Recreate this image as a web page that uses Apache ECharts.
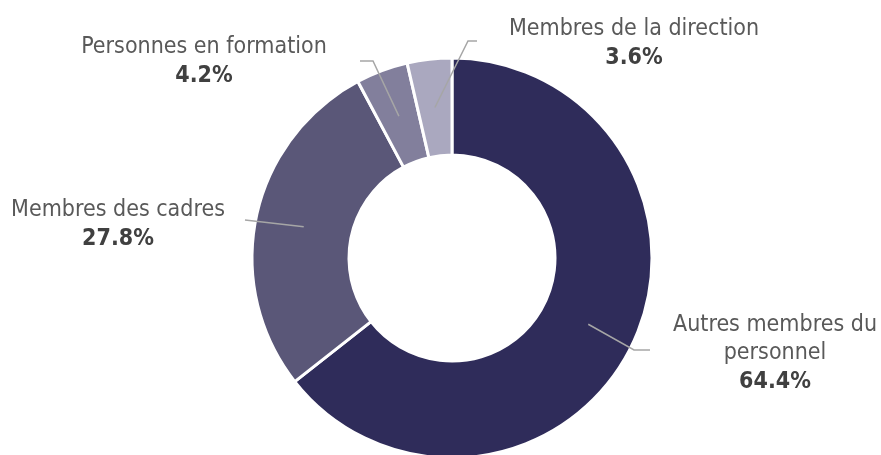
<!DOCTYPE html>
<html>
<head>
<meta charset="utf-8">
<script src="https://cdn.jsdelivr.net/npm/echarts@6/dist/echarts.min.js"></script>
<style>
  html, body { margin: 0; padding: 0; background: #fff; }
  #container { width: 881px; height: 455px; }
</style>
</head>
<body>
<div id="container"></div>
<script>
var categories = ['Autres membres du\npersonnel', 'Membres des cadres', 'Personnes en formation', 'Membres de la direction'];
var values = [64.4, 27.8, 4.2, 3.6];
var colors = ['#2f2c5a', '#5a5778', '#827f9c', '#aaa8bf'];

// label layout (text centre, line elbow, line end)
var labelPos = [[775, 354], [118, 225], [204, 62], [634, 44]];
var lineElbow = [[634, 350], [245, 220], [373, 61], [468, 41]];
var lineEnd = [[650, 350], [245, 220], [360, 61], [477, 41]];

var cx = 452, cy = 258, rIn = 103, rOut = 200;

var total = values.reduce(function (a, b) { return a + b; }, 0);
function midPoint(i) {
  var before = 0;
  for (var k = 0; k < i; k++) before += values[k];
  var a = (before + values[i] / 2) / total * Math.PI * 2;
  var r = (rIn + rOut) / 2;
  return [cx + r * Math.sin(a), cy - r * Math.cos(a)];
}

var dom = document.getElementById('container');
var myChart = echarts.init(dom);
var option = {
  animation: false,
  series: [{
    // the ring
    type: 'pie',
    center: [cx, cy],
    radius: [rIn, rOut],
    startAngle: 90,
    clockwise: true,
    silent: true,
    itemStyle: { borderColor: '#fff', borderWidth: 3 },
    label: { show: false },
    labelLine: { show: false },
    data: categories.map(function (c, i) {
      return { name: c, value: values[i], itemStyle: { color: colors[i] } };
    })
  }, {
    // transparent copy on top, carries the labels so the lines sit above the ring
    type: 'pie',
    z: 5,
    center: [cx, cy],
    radius: [rIn, rOut],
    startAngle: 90,
    clockwise: true,
    silent: true,
    itemStyle: { color: 'rgba(0,0,0,0)', borderWidth: 0 },
    label: {
      show: true,
      overflow: 'none',
      formatter: function (p) {
        return '{n|' + p.name.replace('\n', '}\n{n|') + '}\n{v|' + p.value.toFixed(1) + '%}';
      },
      rich: {
        n: { fontFamily: 'DejaVu Sans Condensed', fontSize: 23, color: '#595959', lineHeight: 28, align: 'center' },
        v: { fontFamily: 'DejaVu Sans Condensed', fontSize: 23, fontWeight: 'bold', color: '#404040', lineHeight: 30, align: 'center' }
      }
    },
    labelLine: { show: true, lineStyle: { color: '#a6a6a6', width: 1.5 } },
    labelLayout: function (p) {
      var i = p.dataIndex;
      return {
        x: labelPos[i][0],
        y: labelPos[i][1],
        align: 'center',
        verticalAlign: 'middle',
        labelLinePoints: [midPoint(i), lineElbow[i], lineEnd[i]]
      };
    },
    data: categories.map(function (c, i) {
      return { name: c, value: values[i] };
    })
  }]
};
myChart.setOption(option, true);
</script>
</body>
</html>
